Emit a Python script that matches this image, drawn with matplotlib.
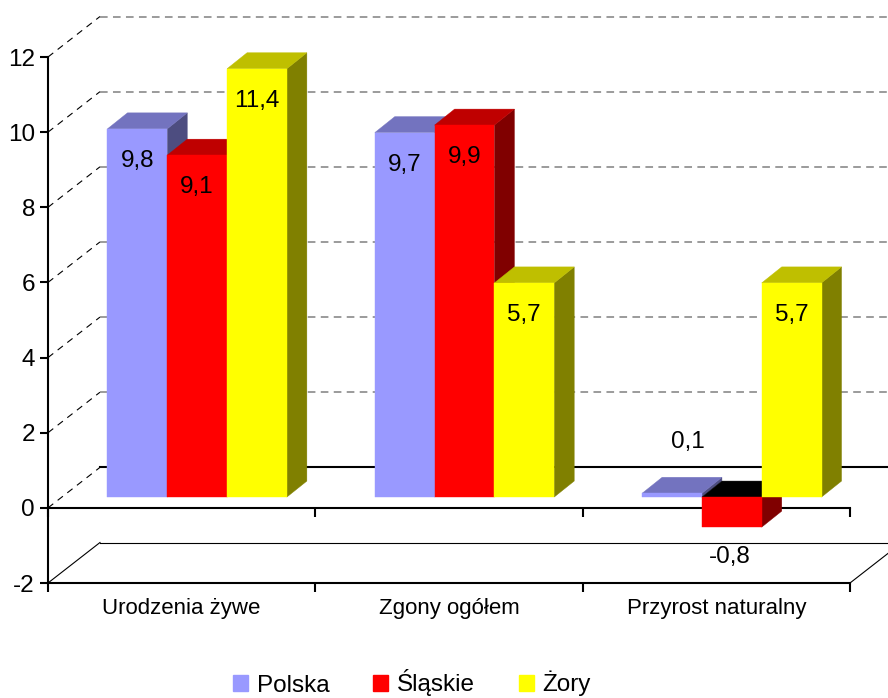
import matplotlib.pyplot as plt
from matplotlib.patches import Polygon, Patch

plt.rcParams["font.family"] = ["Liberation Sans", "DejaVu Sans"]

categories = ["Urodzenia żywe", "Zgony ogółem", "Przyrost naturalny"]
series = ["Polska", "Śląskie", "Żory"]
polska = [9.8, 9.7, 0.1]
slaskie = [9.1, 9.9, -0.8]
zory = [11.4, 5.7, 5.7]
yticks = [-2, 0, 2, 4, 6, 8, 10, 12]

front_colors = ["#9999FF", "#FF0000", "#FFFF00"]
top_colors = ["#7373BF", "#BF0000", "#BFBF00"]
side_colors = ["#4D4D80", "#800000", "#808000"]

# pixel scale of the front plane
PX_X = 802 / 3
PX_Y = 526 / 14
WALL_DX, WALL_DY = 52 / PX_X, 40.5 / PX_Y
BAR_DX, BAR_DY = 20 / PX_X, 16 / PX_Y
FRONT_DX, BASE = 15.5 / PX_X, 10.8 / PX_Y
BAR_W = 59.8 / PX_X


def fmt(v):
    return f"{v:.1f}".replace(".", ",")


def draw_bar(ax, left, value, k, z):
    lo = BASE + min(value, 0)
    hi = BASE + max(value, 0)
    right = left + BAR_W
    cap = "black" if value < 0 else top_colors[k]
    side = [(right, lo), (right + BAR_DX, lo + BAR_DY),
            (right + BAR_DX, hi + BAR_DY), (right, hi)]
    top = [(left, hi), (right, hi), (right + BAR_DX, hi + BAR_DY),
           (left + BAR_DX, hi + BAR_DY)]
    ax.add_patch(Polygon(side, closed=True, fc=side_colors[k], ec=side_colors[k],
                         lw=0.3, zorder=z, clip_on=False))
    ax.add_patch(Polygon(top, closed=True, fc=cap, ec=cap,
                         lw=0.3, zorder=z, clip_on=False))
    ax.bar(left, value, width=BAR_W, bottom=BASE, align="edge",
           color=front_colors[k], edgecolor=front_colors[k], lw=0.3,
           zorder=z, clip_on=False)


fig = plt.figure(figsize=(8.88, 6.98), dpi=100)
ax = fig.add_axes([48 / 888, 115 / 698, 802 / 888, 526 / 698])
ax.set_xlim(0, 3)
ax.set_ylim(-2, 12)

# walls
for t in yticks:
    if t == -2:
        ax.plot([0, WALL_DX], [t, t + WALL_DY], color="black", lw=0.8, clip_on=False, zorder=1)
        ax.plot([WALL_DX, 3 + WALL_DX], [t + WALL_DY] * 2, color="black", lw=0.8,
                clip_on=False, zorder=1)
        ax.plot([3, 3 + WALL_DX], [t, t + WALL_DY], color="black", lw=0.8, clip_on=False, zorder=1)
    else:
        ax.plot([0, WALL_DX], [t, t + WALL_DY], color="black", lw=0.8,
                ls=(0, (6, 5)), clip_on=False, zorder=1)
        if t == 0:
            ax.plot([WALL_DX, 3 + WALL_DX], [t + WALL_DY] * 2, color="black", lw=1.5,
                    clip_on=False, zorder=1)
        else:
            ax.plot([WALL_DX, 3 + WALL_DX], [t + WALL_DY] * 2, color="#808080", lw=1.1,
                    ls=(0, (5, 3.5)), clip_on=False, zorder=1)

# bars
data = [polska, slaskie, zory]
z = 3.0
for i in range(len(categories)):
    for k in range(len(series)):
        v = data[k][i]
        left = i + 0.5 - 1.5 * BAR_W + k * BAR_W + FRONT_DX
        draw_bar(ax, left, v, k, z)
        z += 0.01
        cx = left + BAR_W / 2
        if v >= 1:
            off = (0, -32)
        elif v >= 0:
            off = (16, 51)
        else:
            off = (-2, -30)
        ax.annotate(fmt(v), (cx, BASE + v), xytext=off, textcoords="offset pixels",
                    ha="center", va="center", fontsize=17.5, zorder=10,
                    annotation_clip=False)

# axes
for s in ["top", "right"]:
    ax.spines[s].set_visible(False)
for s in ["left", "bottom"]:
    ax.spines[s].set_linewidth(1.5)
ax.set_yticks(yticks)
ax.set_yticklabels([str(t) for t in yticks], fontsize=17.5)
ax.tick_params(axis="y", length=5.8, width=1.5, pad=3.6)
ax.set_xticks([0, 1, 2, 3], labels=[])
ax.set_xticks([0.5, 1.5, 2.5], labels=categories, minor=True, fontsize=16)
ax.tick_params(axis="x", which="major", length=6.5, width=1.5)
ax.tick_params(axis="x", which="minor", length=0, pad=10.5)

sec = ax.secondary_xaxis(2 / 14)
sec.set_xticks([0, 1, 2, 3], labels=[])
sec.tick_params(axis="x", length=6.5, width=1.5)
sec.spines["bottom"].set_linewidth(1.5)
sec.spines["top"].set_linewidth(1.5)

handles = [Patch(color=c) for c in front_colors]
fig.legend(handles, series, loc="center", bbox_to_anchor=(412 / 888, 15 / 698), ncol=3,
           frameon=False, fontsize=17.5, handlelength=0.62, handleheight=0.62,
           handletextpad=0.35, columnspacing=1.8)

fig.savefig("out.png", dpi=100)
